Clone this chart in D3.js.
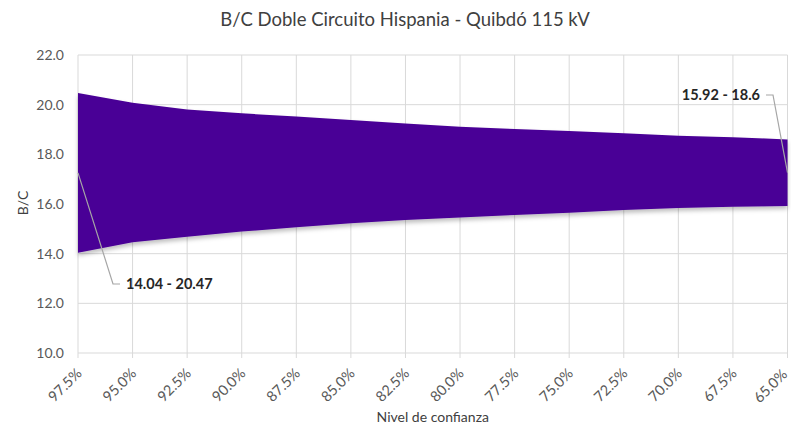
<!DOCTYPE html>
<html>
<head>
<meta charset="utf-8">
<script src="https://cdn.jsdelivr.net/npm/d3@7/dist/d3.min.js"></script>
<style>
  html, body { margin: 0; padding: 0; background: #fff; }
  svg { display: block; font-family: Lato, "Liberation Sans", sans-serif; }
</style>
</head>
<body>
<svg id="chart" width="791" height="428"></svg>
<script>
const categories = ["97.5%","95.0%","92.5%","90.0%","87.5%","85.0%","82.5%","80.0%","77.5%","75.0%","72.5%","70.0%","67.5%","65.0%"];
const lowerValues = [14.04,14.46,14.68,14.89,15.06,15.22,15.36,15.46,15.56,15.65,15.76,15.84,15.89,15.92];
const upperValues = [20.47,20.08,19.81,19.65,19.52,19.38,19.24,19.11,19.02,18.94,18.85,18.75,18.69,18.60];
const yTicks = [10,12,14,16,18,20,22];
const titleText = "B/C Doble Circuito Hispania - Quibdó 115 kV";
const xTitle = "Nivel de confianza";
const yTitle = "B/C";

(function () {
const svg = d3.select("#chart");
const pLeft = 78, pRight = 787.5, pTop = 55, pBottom = 353;

const x = d3.scalePoint().domain(categories).range([pLeft, pRight]).padding(0);
const y = d3.scaleLinear().domain([10, 22]).range([pBottom, pTop]);

const data = categories.map((c, i) => ({c, lo: lowerValues[i], hi: upperValues[i]}));

// gridlines
const grid = svg.append("g");
grid.selectAll("line.h").data(yTicks).join("line").attr("class", "h")
  .attr("x1", pLeft).attr("x2", pRight)
  .attr("y1", d => y(d)).attr("y2", d => y(d))
  .attr("stroke", "#d9d9d9").attr("stroke-width", 1);
grid.selectAll("line.v").data(categories).join("line").attr("class", "v")
  .attr("x1", d => x(d)).attr("x2", d => x(d))
  .attr("y1", pTop).attr("y2", pBottom + 5)
  .attr("stroke", "#d9d9d9").attr("stroke-width", 1);

// shadow filter
const defs = svg.append("defs");
const f = defs.append("filter").attr("id", "sh").attr("x", "-5%").attr("y", "-5%").attr("width", "110%").attr("height", "120%");
f.append("feDropShadow").attr("dx", 0).attr("dy", 3).attr("stdDeviation", 2).attr("flood-color", "#000").attr("flood-opacity", 0.25);

// band
const area = d3.area().x(d => x(d.c)).y0(d => y(d.lo)).y1(d => y(d.hi)).curve(d3.curveLinear);
svg.append("path").datum(data).attr("d", area)
  .attr("fill", "#4a0096").attr("filter", "url(#sh)");

// y axis
const yAxis = d3.axisLeft(y).tickValues(yTicks).tickFormat(d3.format(".1f")).tickSize(0).tickPadding(14);
const gy = svg.append("g").attr("transform", `translate(${pLeft},0)`).call(yAxis);
gy.select(".domain").remove();
gy.selectAll("text").attr("fill", "#595959").style("font-size", "14px").style("font-family", "Lato, sans-serif");

// x axis
const xAxis = d3.axisBottom(x).tickSize(0).tickPadding(8);
const gx = svg.append("g").attr("transform", `translate(0,${pBottom})`).call(xAxis);
gx.select(".domain").remove();
gx.selectAll("text")
  .attr("fill", "#595959").style("font-size", "14.5px").style("font-family", "Lato, sans-serif")
  .attr("text-anchor", "end")
  .attr("dy", "0.35em")
  .attr("transform", (d, i) => i === categories.length - 1 ? "translate(-9,13) rotate(-45)" : "translate(-5,12) rotate(-45)");

// titles
svg.append("text").attr("x", 405).attr("y", 26).attr("text-anchor", "middle")
  .attr("fill", "#404040").style("font-size", "18.5px").text(titleText);
svg.append("text").attr("x", (pLeft + pRight) / 2).attr("y", 422).attr("text-anchor", "middle")
  .attr("fill", "#404040").style("font-size", "14px").text(xTitle);
svg.append("text").attr("transform", `translate(28,203) rotate(-90)`).attr("text-anchor", "middle")
  .attr("fill", "#404040").style("font-size", "14px").text(yTitle);

// data labels with leader lines
const first = data[0], last = data[data.length - 1];
const fmt = v => String(+v.toFixed(2));
const ax1 = x(first.c), ay1 = y((first.lo + first.hi) / 2);
const lx1 = 120, ly1 = 284;
svg.append("polyline")
  .attr("points", `${ax1},${ay1} ${lx1 - 7},${ly1} ${lx1},${ly1}`)
  .attr("fill", "none").attr("stroke", "#a6a6a6").attr("stroke-width", 1.2);
svg.append("text").attr("x", lx1 + 6).attr("y", ly1 + 5)
  .attr("fill", "#262626").style("font-size", "14.5px").style("font-weight", "bold")
  .text(`${fmt(first.lo)} - ${fmt(first.hi)}`);

const ax2 = x(last.c), ay2 = y((last.lo + last.hi) / 2);
const lx2 = 766, ly2 = 95;
svg.append("polyline")
  .attr("points", `${lx2},${ly2} ${lx2 + 7},${ly2} ${ax2},${ay2}`)
  .attr("fill", "none").attr("stroke", "#a6a6a6").attr("stroke-width", 1.2);
svg.append("text").attr("x", lx2 - 6).attr("y", ly2 + 5).attr("text-anchor", "end")
  .attr("fill", "#262626").style("font-size", "14.5px").style("font-weight", "bold")
  .text(`${fmt(last.lo)} - ${fmt(last.hi)}`);
})();
</script>
</body>
</html>
